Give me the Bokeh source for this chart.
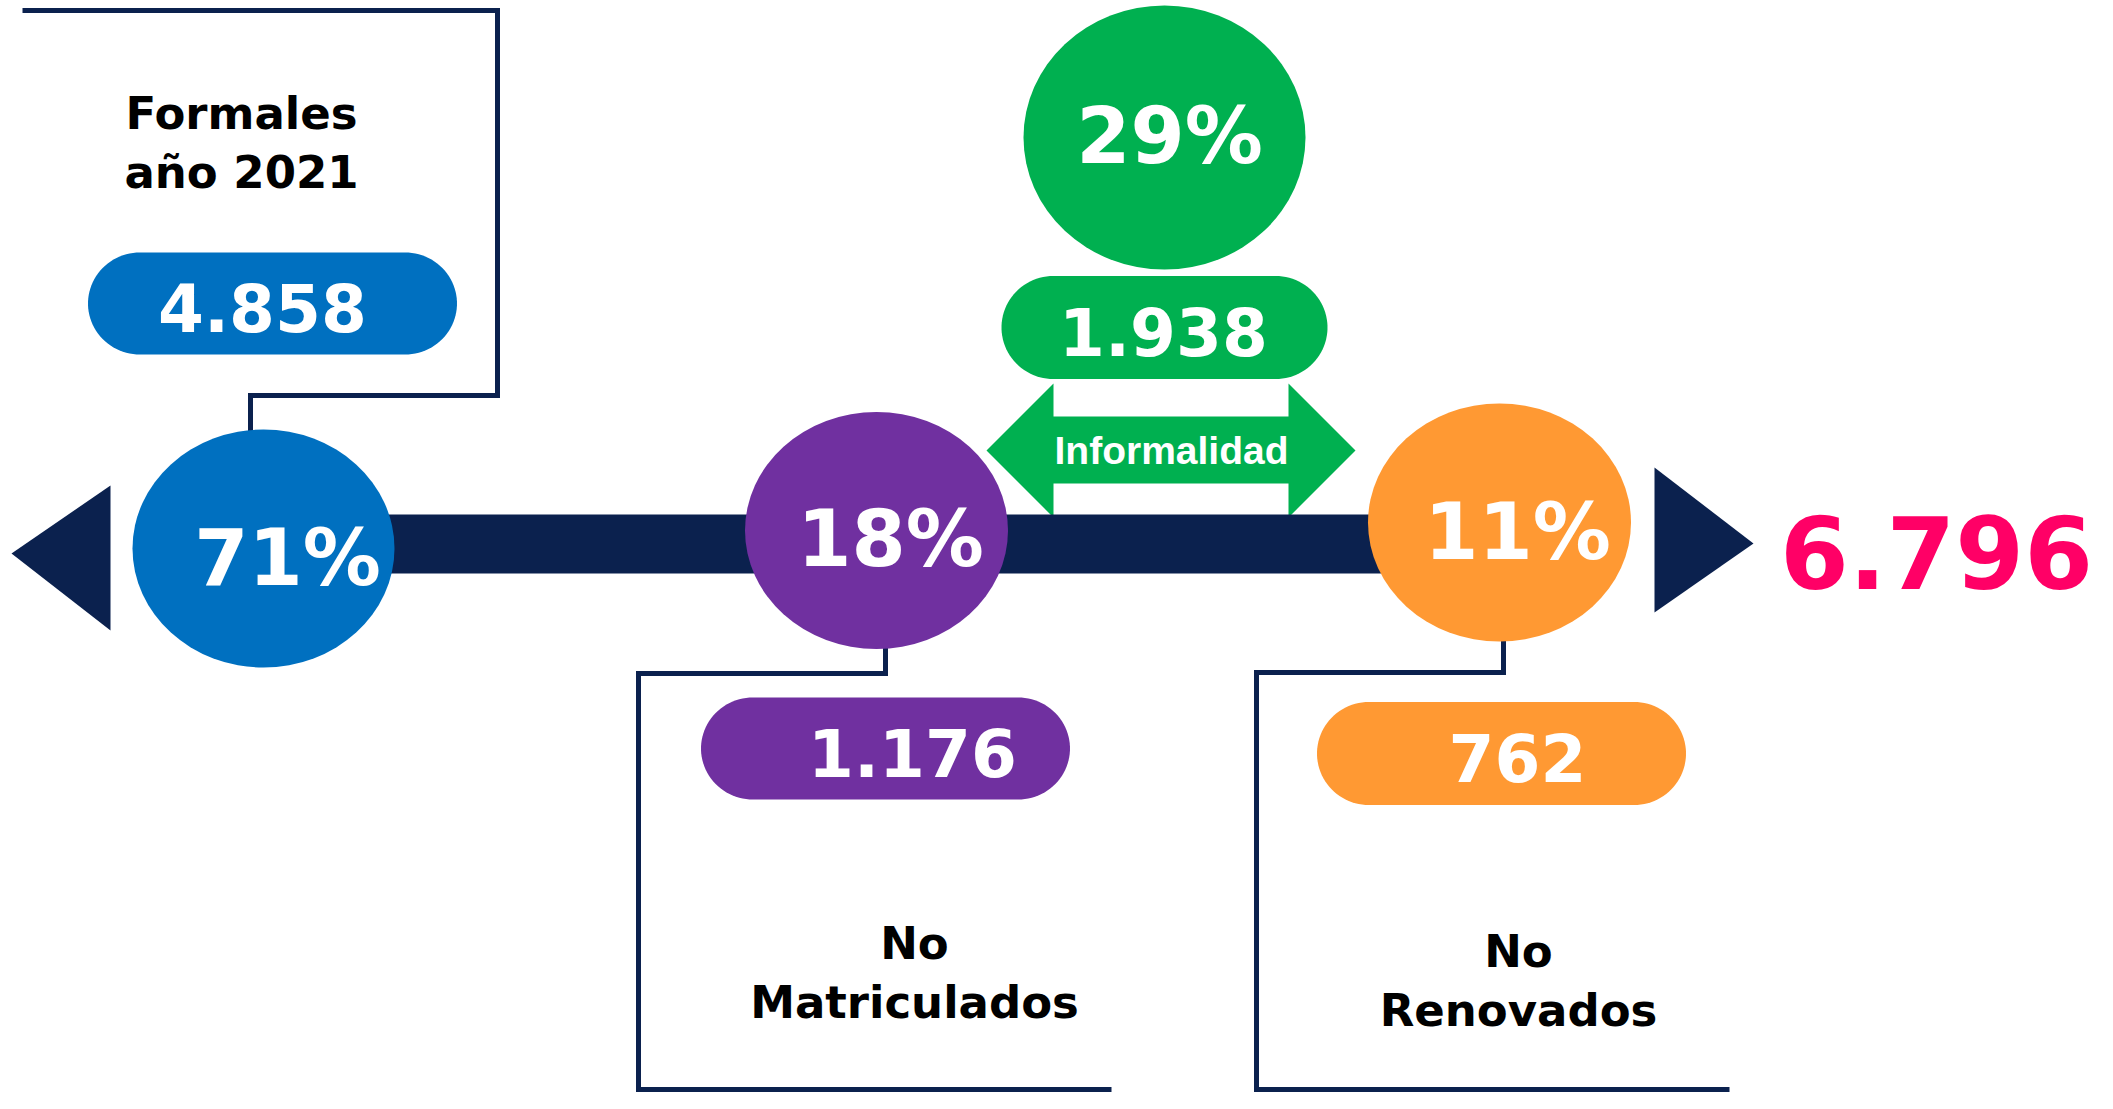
import numpy as np
from bokeh.plotting import figure
from bokeh.models import Range1d
from bokeh.core.properties import value
from bokeh.embed import file_html
from bokeh.resources import INLINE

# ---------------- data ----------------
categories = ["Formales\naño 2021", "No\nMatriculados", "No\nRenovados"]
shares = [71, 18, 11]            # % of total
counts = [4858, 1176, 762]       # units
informal_label = "Informalidad"
informal_share = 29
informal_count = 1938
total_count = 6796

colors = ["#0070C0", "#7030A0", "#FF9933"]
green = "#00B050"
navy = "#0B214E"
pink = "#FF0066"


def fmt(n):
    return f"{n:,}".replace(",", ".")


# ---------------- layout (screen px of the reference) ----------------
circ_x = [263, 876, 1499]
circ_y = [548, 530, 522]
circ_w = [262, 263, 263]
circ_h = [238, 237, 238]
pct_dx = [24, 14, 18]
pct_dy = [39, 38, 39]

pill_x = [272, 885, 1501]
pill_y = [303, 748, 753]
pill_w = [369, 369, 369]
pill_h = [102, 102, 103]
cnt_x = [262, 912, 1517]

lab_x = [241, 914, 1518]
lab_y = [130, 960, 968]
lab_gap = 59

W, H = 2097, 1093
p = figure(width=W, height=H, output_backend="svg", toolbar_location=None,
           x_range=Range1d(0, W), y_range=Range1d(H, 0),
           min_border=0, outline_line_color=None)
p.axis.visible = False
p.grid.visible = False
p.background_fill_color = "white"
p.border_fill_color = "white"

HEAVY = value("DejaVu Sans")


def ty(baseline, fs):
    # place text so that its alphabetic baseline lands on `baseline`
    return baseline - 0.38 * fs


def text(x, y, t, fs, color="white", font=HEAVY):
    p.text(x, [ty(v, fs) for v in y], text=t, text_font=font, text_font_style="bold",
           text_font_size=f"{fs}px", text_color=color, text_align="center",
           text_baseline="alphabetic")


# connector lines
bottom = H - 4
xs = [
    [22, 497, 497, 250, 250],
    [885, 885, 638, 638, 1111],
    [1503, 1503, 1256, 1256, 1729],
]
ys = [
    [10, 10, 395, 395, 432],
    [645, 673, 673, bottom, bottom],
    [638, 672, 672, bottom, bottom],
]
p.multi_line(xs, ys, line_color=navy, line_width=5, line_join="miter")

# Informalidad double arrow
ax = [986, 1053, 1053, 1288, 1288, 1355, 1288, 1288, 1053, 1053]
ay = [450, 383, 416, 416, 383, 450, 517, 483, 483, 517]
p.patch(ax, ay, fill_color=green, line_color=None)

# main bar and end arrows
p.quad(left=[330], right=[1480], top=[514], bottom=[573], fill_color=navy, line_color=None)
p.patch([11, 110, 110], [553, 485, 630], fill_color=navy, line_color=None)
p.patch([1654, 1753, 1654], [467, 543, 612], fill_color=navy, line_color=None)

text([1171], [465], [informal_label], 39, font=value("Liberation Sans"))

# circles with shares
p.ellipse(circ_x, circ_y, width=circ_w, height=circ_h, fill_color=colors, line_color=None)
text([x + d for x, d in zip(circ_x, pct_dx)], [y + d for y, d in zip(circ_y, pct_dy)],
     [f"{s}%" for s in shares], 78)

# informal circle
p.ellipse([1164], [137], width=282, height=264, fill_color=green, line_color=None)
text([1169], [165], [f"{informal_share}%"], 78)


def pill_xy(cx, cy, w, h, r=52, n=48):
    t = np.linspace(-np.pi / 2, np.pi / 2, n)
    xr = (cx + w / 2 - r) + r * np.cos(t)
    yr = cy + (h / 2) * np.sin(t)
    t2 = np.linspace(np.pi / 2, 3 * np.pi / 2, n)
    xl = (cx - w / 2 + r) + r * np.cos(t2)
    yl = cy + (h / 2) * np.sin(t2)
    return list(np.concatenate([xr, xl])), list(np.concatenate([yr, yl]))


pxs, pys, pcs = [], [], []
for i in range(3):
    a, b = pill_xy(pill_x[i], pill_y[i], pill_w[i], pill_h[i])
    pxs.append(a); pys.append(b); pcs.append(colors[i])
a, b = pill_xy(1164, 327, 326, 103)
pxs.append(a); pys.append(b); pcs.append(green)
p.patches(pxs, pys, fill_color=pcs, line_color=None)

text(cnt_x, [y + 29 for y in pill_y], [fmt(c) for c in counts], 66)
text([1163], [356], [fmt(informal_count)], 66)

# category labels
lx, ly, lt = [], [], []
for x, y, c in zip(lab_x, lab_y, categories):
    for k, line in enumerate(c.split("\n")):
        lx.append(x)
        ly.append(y + k * lab_gap)
        lt.append(line)
text(lx, ly, lt, 45, color="black")

# total
text([1936], [590], [fmt(total_count)], 99, color=pink)

open("out.html", "w").write(file_html(p, INLINE))
